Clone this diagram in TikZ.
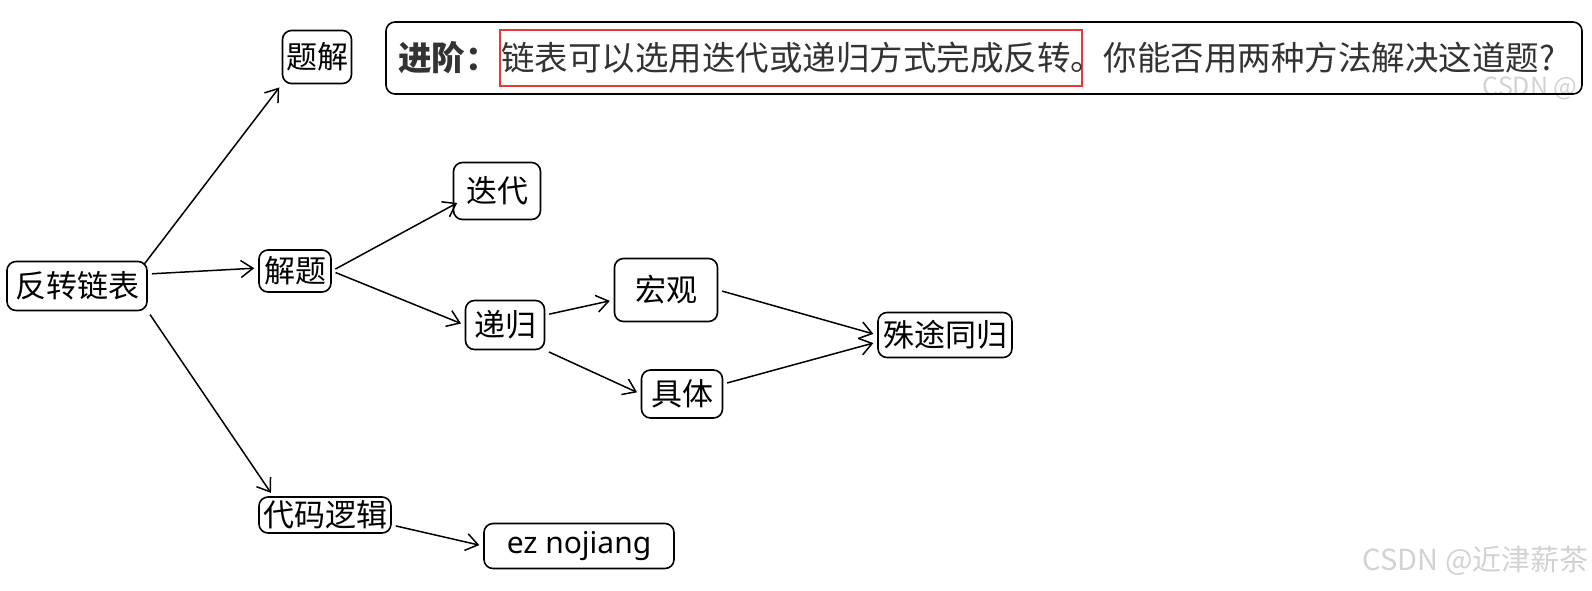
\documentclass[tikz,border=0pt]{standalone}
\usepackage{fontspec}
\setmainfont{Noto Sans}
\newfontfamily\cjk{Noto Sans CJK SC}
\usetikzlibrary{arrows.meta,positioning}
\definecolor{hintgray}{HTML}{333333}
\definecolor{markred}{HTML}{E5393B}
\definecolor{wmgray}{HTML}{D2D2D2}
\begin{document}
\begin{tikzpicture}[x=1pt,y=-1pt,
    box/.style={draw,rounded corners=9pt,line width=1.6pt,inner sep=0pt,font=\cjk\fontsize{31}{31}\selectfont},
    hint/.style={inner sep=0pt,text=hintgray,font=\cjk\fontsize{33.5}{33.5}\selectfont},
    arr/.style={line width=1.5pt,-{Straight Barb[length=12pt,width=17pt,line width=1.5pt]},shorten <=4pt,shorten >=4pt}]
    \useasboundingbox (0,0) rectangle (1592,590);
    \node[text=wmgray,font=\cjk\fontsize{25}{25}\selectfont,anchor=east] (wmtop) at (1581,88) {CSDN @};
    \node[box,minimum width=1196pt,minimum height=72pt] (tip) at (984,58) {};
    \node[hint,anchor=west] (jinjie) at (398,58) {\bfseries 进阶：};
    \node[hint,right=0pt of jinjie,draw=markred,line width=2.4pt,inner xsep=1pt,minimum height=56pt] (mark) {链表可以选用迭代或递归方式完成反转。\kern-23pt};
    \node[hint,right=20pt of mark] (rest) {你能否用两种方法解决这道题?};
    \node[box,minimum width=140pt,minimum height=49pt] (fzlb) at (77,286) {反转链表};
    \node[box,minimum width=69pt,minimum height=53pt] (tj) at (317,57) {题解};
    \node[box,minimum width=72pt,minimum height=42pt] (jt) at (295,271) {解题};
    \node[box,minimum width=87pt,minimum height=57pt] (dd) at (497,191) {迭代};
    \node[box,minimum width=79pt,minimum height=49pt] (dg) at (505,325) {递归};
    \node[box,minimum width=103pt,minimum height=63pt] (hg) at (666,290) {宏观};
    \node[box,minimum width=81pt,minimum height=48pt] (jti) at (682,394) {具体};
    \node[box,minimum width=134pt,minimum height=45pt] (stth) at (945,335) {殊途同归};
    \node[box,minimum width=132pt,minimum height=36pt] (dmlj) at (325,515) {代码逻辑};
    \node[box,minimum width=190pt,minimum height=45pt,font=\fontsize{30}{30}\selectfont] (ez) at (579,546) {ez nojiang};
    \node[text=wmgray,font=\cjk\fontsize{29}{29}\selectfont,anchor=east] (wm) at (1592,561) {CSDN @近津薪茶};
    \draw[arr,shorten <=0pt] ([shift={(-4pt,-4pt)}]fzlb.north east) -- (tj.south west);
    \draw[arr] ([yshift=12pt]fzlb.east) -- ([yshift=3pt]jt.west);
    \draw[arr] (fzlb.south east) -- ([xshift=15pt]dmlj.north west);
    \draw[arr] (jt.east) -- ([xshift=8pt,yshift=-10pt]dd.west);
    \draw[arr] (jt.east) -- (dg.west);
    \draw[arr] ([yshift=10pt]dg.east) -- ([yshift=-10pt]hg.west);
    \draw[arr] (dg.south east) -- (jti.west);
    \draw[arr] (hg.east) -- (stth.west);
    \draw[arr] ([yshift=10pt]jti.east) -- ([yshift=-7pt]stth.west);
    \draw[arr] ([yshift=-10pt]dmlj.east) -- (ez.west);
\end{tikzpicture}
\end{document}
